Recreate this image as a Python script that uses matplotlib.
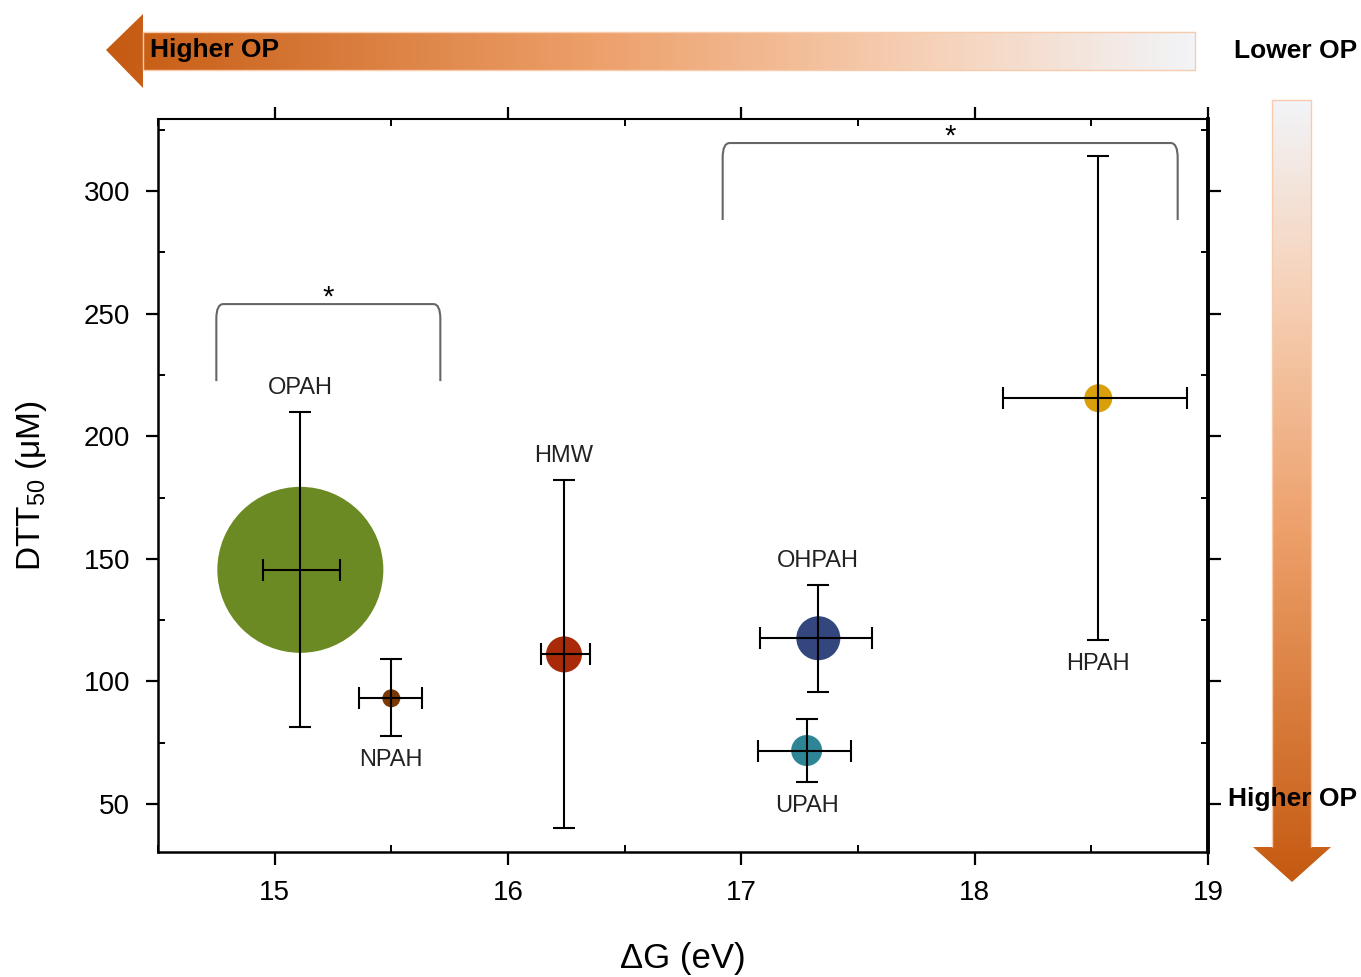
import numpy as np
import matplotlib
matplotlib.use("Agg")
from matplotlib import pyplot as plt
from matplotlib.colors import LinearSegmentedColormap
from matplotlib.patches import Polygon, PathPatch
from matplotlib.path import Path
from matplotlib.ticker import MultipleLocator

plt.rcParams['font.family'] = ['Liberation Sans', 'DejaVu Sans']
plt.rcParams['mathtext.fontset'] = 'custom'
plt.rcParams['mathtext.rm'] = 'Liberation Sans'

# data
groups = ['OPAH', 'NPAH', 'HMW', 'OHPAH', 'UPAH', 'HPAH']
dG = [15.11, 15.50, 16.24, 17.33, 17.28, 18.53]
dG_lo = [14.95, 15.36, 16.14, 17.08, 17.07, 18.12]
dG_hi = [15.28, 15.63, 16.35, 17.56, 17.47, 18.91]
dtt = [145.5, 93.1, 111.0, 117.6, 71.8, 215.5]
dtt_lo = [81.4, 77.7, 40.2, 95.7, 59.0, 116.9]
dtt_hi = [209.9, 109.1, 182.1, 139.3, 84.7, 314.3]
bubble = [166, 18, 36, 44, 31, 28]   # circle diameter, px
colors = ['#6B8A23', '#7A3806', '#A82A08', '#34467E', '#2E8596', '#D9A00C']
label_side = ['top', 'bottom', 'top', 'top', 'bottom', 'bottom']

# significance brackets: (x from, x to, leg bottom, top)
brackets = [(14.75, 15.71, 222.5, 253.9), (16.92, 18.87, 288.2, 319.6)]

fig = plt.figure(figsize=(13.61, 9.77), dpi=100)
ax = fig.add_axes([158/1361, 1-852/977, 1050/1361, 733/977])

xerr = [np.subtract(dG, dG_lo), np.subtract(dG_hi, dG)]
yerr = [np.subtract(dtt, dtt_lo), np.subtract(dtt_hi, dtt)]
sizes = [(d * 0.72) ** 2 for d in bubble]

ax.scatter(dG, dtt, s=sizes, c=colors, edgecolors='none', zorder=2)
ax.errorbar(dG, dtt, xerr=xerr, yerr=yerr, fmt='none', ecolor='black',
            elinewidth=1.5, capsize=8, capthick=1.5, zorder=3)

for name, x, lo, hi, side in zip(groups, dG, dtt_lo, dtt_hi, label_side):
    if side == 'top':
        ax.annotate(name, (x, hi), xytext=(0, 17.5), textcoords='offset points',
                    ha='center', va='center', fontsize=17, color='#222222')
    else:
        ax.annotate(name, (x, lo), xytext=(0, -17.5), textcoords='offset points',
                    ha='center', va='center', fontsize=17, color='#222222')

# brackets with rounded corners
for x0, x1, yb, yt in brackets:
    rx, ry = 0.03, 6
    verts = [(x0, yb), (x0, yt - ry), (x0, yt), (x0 + rx, yt),
             (x1 - rx, yt), (x1, yt), (x1, yt - ry), (x1, yb)]
    codes = [Path.MOVETO, Path.LINETO, Path.CURVE3, Path.CURVE3,
             Path.LINETO, Path.CURVE3, Path.CURVE3, Path.LINETO]
    ax.add_patch(PathPatch(Path(verts, codes), facecolor='none',
                           edgecolor='#666666', lw=1.5, zorder=2))
    ax.annotate('*', ((x0 + x1) / 2, yt), xytext=(0, -1), textcoords='offset points',
                ha='center', va='baseline', fontsize=21)

ax.set_xlim(14.5, 19)
ax.set_ylim(30.4, 329.4)
ax.xaxis.set_major_locator(MultipleLocator(1))
ax.xaxis.set_minor_locator(MultipleLocator(0.5))
ax.yaxis.set_major_locator(MultipleLocator(50))
ax.yaxis.set_minor_locator(MultipleLocator(25))
ax.set_yticks([50, 100, 150, 200, 250, 300])

ax.tick_params(which='major', direction='out', length=9, width=1.6,
               top=True, right=True, labelsize=20, pad=11)
ax.tick_params(which='minor', direction='in', length=5, width=1.4,
               top=True, right=True)
ax.spines['left'].set_linewidth(1.8)
ax.spines['bottom'].set_linewidth(1.8)
ax.spines['top'].set_linewidth(1.5)
ax.spines['right'].set_linewidth(2.8)

ax.set_xlabel('ΔG (eV)', fontsize=25)
ax.set_ylabel('DTT$_{\\mathrm{50}}$ (μM)', fontsize=24)
ax.xaxis.set_label_coords(0.5, -0.123)
ax.yaxis.set_label_coords(-0.104, 0.5)

# gradient arrows, drawn in pixel coords on an overlay
ov = fig.add_axes([0, 0, 1, 1])
ov.set_xlim(0, 1361)
ov.set_ylim(977, 0)
ov.axis('off')
ov.patch.set_alpha(0)

cmap = LinearSegmentedColormap.from_list(
    'op', [(0, '#C55A11'), (0.45, '#EDA06A'), (0.75, '#F6D0B6'), (1, '#F2F4F8')])

top_arrow = Polygon([(106, 50), (143, 14), (143, 32), (1195, 32), (1195, 70),
                     (143, 70), (143, 88)], closed=True, transform=ov.transData)
im = ov.imshow(np.linspace(0, 1, 256).reshape(1, -1), cmap=cmap, aspect='auto',
               extent=[106, 1195, 88, 14])
im.set_clip_path(top_arrow)
ov.add_patch(Polygon([(143, 32), (1195, 32), (1195, 70), (143, 70)], closed=True,
                     fill=False, edgecolor='#F8CBAD', lw=1))

right_arrow = Polygon([(1272, 100), (1311, 100), (1311, 847), (1331, 847),
                       (1292, 882), (1253, 847), (1272, 847)], closed=True,
                      transform=ov.transData)
im2 = ov.imshow(np.linspace(1, 0, 256).reshape(-1, 1), cmap=cmap, aspect='auto',
                extent=[1253, 1331, 882, 100])
im2.set_clip_path(right_arrow)
ov.add_patch(Polygon([(1272, 847), (1272, 100), (1311, 100), (1311, 847)], closed=False,
                     fill=False, edgecolor='#F8CBAD', lw=1))
ov.set_xlim(0, 1361)
ov.set_ylim(977, 0)

ov.text(150, 50, 'Higher OP', fontsize=19, fontweight='bold', ha='left', va='center')
ov.text(1357, 51, 'Lower OP', fontsize=19, fontweight='bold', ha='right', va='center')
ov.text(1357, 799, 'Higher OP', fontsize=19, fontweight='bold', ha='right', va='center')

plt.savefig('out.png', dpi=100, facecolor='white')
